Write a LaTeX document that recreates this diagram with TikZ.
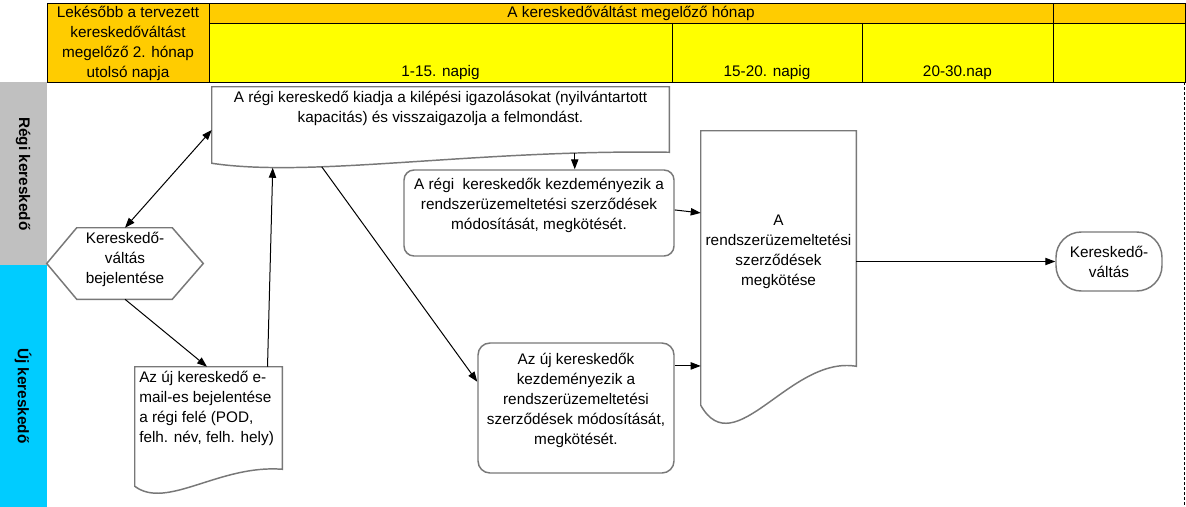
\documentclass[tikz,border=0pt]{standalone}
\usepackage{fontspec}
\setmainfont{Liberation Sans}
\usetikzlibrary{arrows.meta,calc}
\definecolor{HeadTop}{RGB}{255,204,0}
\definecolor{HeadSub}{RGB}{255,255,0}
\definecolor{LaneOld}{RGB}{192,192,192}
\definecolor{LaneNew}{RGB}{0,204,255}
\definecolor{Frame}{RGB}{120,120,120}

\tikzset{
  >={Triangle[length=7.5pt,width=5.5pt]},
  box/.style={draw=Frame, line width=1.1pt},
  docbox/.style={inner sep=0pt},
  txt/.style={font=\fontsize{11.5}{15}\selectfont, align=center, inner sep=0pt},
  lane/.style={font=\fontsize{11.5}{15}\selectfont\bfseries, rotate=-90, inner sep=0pt},
  flow/.style={->, line width=0.75pt},
}

\begin{document}
\begin{tikzpicture}[x=0.75pt, y=-0.75pt]
    %%Background
    \useasboundingbox (0,0) rectangle (1186,507);
    \fill[white] (0,0) rectangle (1186,507);

    %% Lanes
    \fill[LaneOld] (0,82) rectangle (47,265);
    \fill[LaneNew] (0,265) rectangle (47,507);
    \node[lane] (oldlane) at (23,174) {Régi kereskedő};
    \node[lane] (newlane) at (23,396) {Új kereskedő};
    \draw[line width=0.75pt, dash pattern=on 2.25pt off 1.5pt] (1184,82) to (1184,507);

    %% Header
    \fill[HeadTop] (47,3) rectangle (1185,23);
    \fill[HeadTop] (47,3) rectangle (209,82);
    \fill[HeadSub] (209,23) rectangle (1185,82);
    \draw[line width=0.75pt]
    (47,3) rectangle (1185,82)
    (209,3) to (209,82)
    (209,23) to (1185,23)
    (672,23) to (672,82)
    (862,23) to (862,82)
    (1053,3) to (1053,82)
    ;
    \node[txt] (deadline) at (128,43) {Lekésőbb a tervezett\\kereskedőváltást\\megelőző 2. hónap\\utolsó napja};
    \node[txt] (month) at (631,13) {A kereskedőváltást megelőző hónap};
    \node[txt] (days1) at (440.5,73) {1-15. napig};
    \node[txt] (days2) at (767,73) {15-20. napig};
    \node[txt] (days3) at (957.5,73) {20-30.nap};

    %% Notice (hexagon)
    \node[docbox, minimum width=117pt, minimum height=53.25pt] (notice) at (125,263.5) {};
    \draw[box] (notice.west) to ($(notice.north west)+(30,0)$) to ($(notice.north east)+(-31,0)$)
    to (notice.east) to ($(notice.south east)+(-31,0)$) to ($(notice.south west)+(30,0)$) -- cycle;
    \node[txt] (noticetxt) at (125,259) {Kereskedő-\\váltás\\bejelentése};

    %% Old trader documents
    \node[docbox, minimum width=342.75pt, minimum height=48.75pt] (quit) at (440.5,119.5) {};
    \draw[box] (quit.north west) -- (quit.north east) -- (quit.south east)
    .. controls +(-195,-3) and +(100,15) .. ($(quit.south west)+(0,11)$) -- cycle;
    \node[txt] (quittxt) at (440.5,108.5) {A régi kereskedő kiadja a kilépési igazolásokat (nyilvántartott\\kapacitás) és visszaigazolja a felmondást.};

    \node[box, rounded corners=7.5pt, minimum width=202.5pt, minimum height=64.5pt] (oldmod) at (539,213) {};
    \node[txt] (oldmodtxt) at (539,205) {A régi\ \ kereskedők kezdeményezik a\\rendszerüzemeltetési szerződések\\módosítását, megkötését.};

    %% Contracts
    \node[docbox, minimum width=116.25pt, minimum height=176.25pt] (contract) at (778.5,248.5) {};
    \draw[box] (contract.north west) -- (contract.north east) -- (contract.south east)
    .. controls +(-66,-11) and +(34,60) .. ($(contract.south west)+(0,39)$) -- cycle;
    \node[txt] (contracttxt) at (778.5,252) {A\\rendszerüzemeltetési\\szerződések\\megkötése};

    %% New trader
    \node[docbox, minimum width=110.25pt, minimum height=76.5pt] (email) at (208.5,418) {};
    \draw[box] (email.north west) -- (email.north east) -- (email.south east)
    .. controls +(-63,-5) and +(32,24) .. ($(email.south west)+(0,17)$) -- cycle;
    \node[txt, align=left, anchor=west] (emailtxt) at (139,408) {Az új kereskedő e-\\mail-es bejelentése\\a régi felé (POD,\\felh. név, felh. hely)};

    \node[box, rounded corners=9pt, minimum width=147pt, minimum height=97.5pt] (newmod) at (576,408) {};
    \node[txt] (newmodtxt) at (576,400) {Az új kereskedők\\kezdeményezik a\\rendszerüzemeltetési\\szerződések módosítását,\\megkötését.};

    %% Switch
    \node[box, txt, rounded corners=19pt, minimum width=79.5pt, minimum height=44.25pt] (switch) at (1109,261.5) {Kereskedő-\\váltás};

    %% Connectors
    \coordinate (quitleft) at ($(quit.north west)!0.66!(quit.south west)$);
    \coordinate (quitup) at ($(quit.south west)+(61,15.5)$);
    \coordinate (quitnew) at ($(quit.south west)+(110,14.5)$);
    \coordinate (quitold) at ($(quit.south west)+(363,0.5)$);
    \coordinate (emailin) at ($(email.north west)!0.49!(email.north east)$);
    \coordinate (emailup) at ($(email.north west)!0.9!(email.north east)$);
    \coordinate (newmodin) at ($(newmod.north west)!0.3!(newmod.south west)$);
    \coordinate (newmodout) at ($(newmod.north east)!0.18!(newmod.south east)$);
    \coordinate (oldmodout) at ($(oldmod.north east)!0.465!(oldmod.south east)$);
    \coordinate (contractin) at ($(contract.north west)!0.349!(contract.south west)$);

    \draw[flow, <->] (notice.north) to (quitleft);
    \draw[flow] (notice.south) to (emailin);
    \draw[flow] (emailup) to (quitup);
    \draw[flow] (quitnew) to (newmodin);
    \draw[flow] (quitold) to (quitold |- oldmod.north);
    \draw[flow] (oldmodout) to (contractin);
    \draw[flow] (newmodout) to (newmodout -| contract.west);
    \draw[flow] (switch.west -| contract.east) to (switch.west);

\end{tikzpicture}
\end{document}
